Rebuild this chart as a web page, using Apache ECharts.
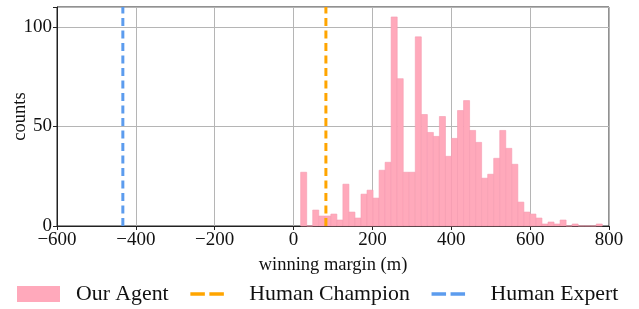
<!DOCTYPE html>
<html>
<head>
<meta charset="utf-8">
<script src="https://cdn.jsdelivr.net/npm/echarts@6/dist/echarts.min.js"></script>
<style>
  html, body { margin: 0; padding: 0; background: #fff; }
  #chart { width: 639px; height: 309px; }
</style>
</head>
<body>
<div id="chart"></div>
<script>
// histogram of winning margins, 50 bins
const binStart = 18;
const binWidth = 15.3;
const counts = [27, 0, 8, 5, 5, 6, 3, 21, 7, 4, 16, 18, 14, 28, 32, 105, 74, 27, 27, 95,
    56, 47, 45, 55, 35, 44, 58, 63, 48, 42, 24, 26, 34, 48, 39, 31, 12, 7, 6, 4,
    1, 2, 1, 3, 0, 1, 0, 0, 0, 1];
const championMargin = 82;
const expertMargin = -433;
const xTicks = [-600, 800, 200]; // min, max, step
const yTicks = [0, 110, 50];

const serif = 'Liberation Serif';
const pink = '#ffa9bb';
const orange = '#ffa500';
const blue = '#5c9cee';

// bin edges -> [left, right, count]
const bins = counts.map((c, i) => [binStart + i * binWidth, binStart + (i + 1) * binWidth, c]);

const legendDash = { width: 3.5, type: [14.5, 4.5, 14.5, 100] };

var chart = echarts.init(document.getElementById('chart'));
var option = {
    animation: false,
    grid: {
        left: 57, right: 30, top: 7, bottom: 83,
        outerBoundsMode: 'none',
        show: true, borderColor: '#222', borderWidth: 1
    },
    legend: {
        left: 17, bottom: 4, padding: 0,
        itemWidth: 43, itemHeight: 16, itemGap: 20,
        textStyle: { fontFamily: serif, fontSize: 21.8, lineHeight: 21, color: '#111', padding: [0, 0, 0, 11] },
        data: [
            { name: 'Our Agent', icon: 'rect', itemStyle: { color: pink } },
            { name: 'Human Champion', itemStyle: { opacity: 0 }, lineStyle: Object.assign({ color: orange }, legendDash) },
            { name: 'Human Expert', itemStyle: { opacity: 0 }, lineStyle: Object.assign({ color: blue }, legendDash) }
        ]
    },
    xAxis: {
        type: 'value',
        min: xTicks[0], max: xTicks[1], interval: xTicks[2],
        name: 'winning margin (m)',
        nameLocation: 'middle', nameGap: 30, nameMoveOverlap: false,
        nameTextStyle: { fontFamily: serif, fontSize: 18.5, color: '#111' },
        axisLine: { onZero: false, lineStyle: { color: '#222' } },
        axisTick: { show: true, length: 4, lineStyle: { color: '#222' } },
        axisLabel: {
            fontFamily: serif, fontSize: 19, color: '#111', margin: 5,
            formatter: v => String(v).replace('-', '\u2212')
        },
        splitLine: { show: true, lineStyle: { color: '#b5b5b5', width: 1 } }
    },
    yAxis: {
        type: 'value',
        min: yTicks[0], max: yTicks[1], interval: yTicks[2],
        name: 'counts',
        nameLocation: 'middle', nameGap: 27, nameMoveOverlap: false,
        nameTextStyle: { fontFamily: serif, fontSize: 18.5, color: '#111' },
        axisLine: { show: true, onZero: false, lineStyle: { color: '#222' } },
        axisTick: { show: true, length: 4, lineStyle: { color: '#222' } },
        axisLabel: {
            fontFamily: serif, fontSize: 19, color: '#111', margin: 5,
            formatter: v => (v > 100 ? '' : String(v))
        },
        splitLine: { show: true, lineStyle: { color: '#b5b5b5', width: 1 } }
    },
    series: [
        {
            name: 'Our Agent',
            type: 'custom',
            data: bins,
            encode: { x: [0, 1], y: 2 },
            renderItem: function (params, api) {
                const p0 = api.coord([api.value(0), api.value(2)]);
                const p1 = api.coord([api.value(1), 0]);
                return {
                    type: 'rect',
                    shape: { x: p0[0], y: p0[1], width: p1[0] - p0[0], height: p1[1] - p0[1] },
                    style: { fill: pink, stroke: '#f59bb0', lineWidth: 0.6 }
                };
            },
            z: 2
        },
        {
            name: 'Human Champion',
            type: 'line',
            data: [[championMargin, yTicks[0]], [championMargin, yTicks[1]]],
            symbol: 'none',
            lineStyle: { color: orange, width: 3, type: [8, 4.5] },
            itemStyle: { color: orange },
            z: 3
        },
        {
            name: 'Human Expert',
            type: 'line',
            data: [[expertMargin, yTicks[0]], [expertMargin, yTicks[1]]],
            symbol: 'none',
            lineStyle: { color: blue, width: 3, type: [8, 4.5] },
            itemStyle: { color: blue },
            z: 3
        }
    ]
};
chart.setOption(option);
</script>
</body>
</html>
